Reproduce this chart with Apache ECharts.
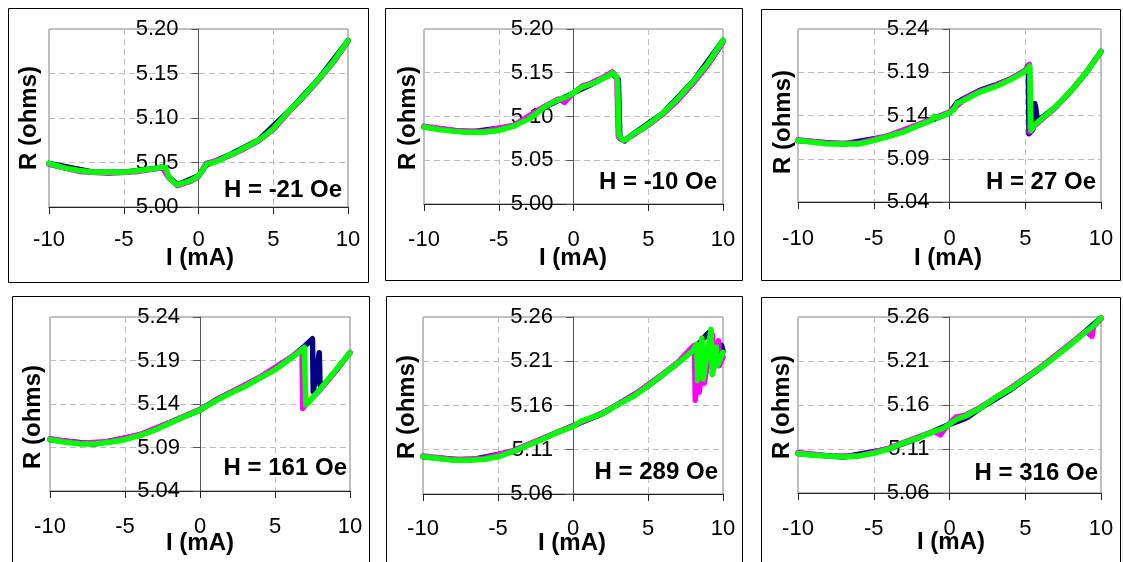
<!DOCTYPE html>
<html><head><meta charset="utf-8">
<script src="https://cdn.jsdelivr.net/npm/echarts@6/dist/echarts.min.js"></script>
<style>html,body{margin:0;padding:0;background:#fff}#c{width:1123px;height:562px}</style>
</head><body><div id="c"></div>
<script>
// ---------- DATA ----------
const panelLabels = ['H = -21 Oe','H = -10 Oe','H = 27 Oe','H = 161 Oe','H = 289 Oe','H = 316 Oe'];
const yMin = [5.00, 5.00, 5.04, 5.04, 5.06, 5.06];
const yMax = [5.20, 5.20, 5.24, 5.24, 5.26, 5.26];
const yStep = 0.05;
const xMin = -10, xMax = 10, xStep = 5;
const xTitle = 'I (mA)';
const yTitle = 'R (ohms)';

// Panel 1  (H = -21 Oe)
const p1_green_I = [-10,-9,-8,-7,-6,-5,-4,-3,-2.4,-2.2,-2.0,-1.7,-1.4,-1.0,-0.5,0,0.3,0.5,1,1.5,2,2.5,3,3.5,4,4.5,5,6,7,8,9,10];
const p1_green_R = [5.049,5.044,5.041,5.039,5.039,5.039,5.041,5.043,5.045,5.044,5.034,5.028,5.025,5.027,5.030,5.035,5.042,5.048,5.050,5.053,5.058,5.061,5.066,5.070,5.075,5.081,5.088,5.107,5.124,5.143,5.163,5.187];
const p1_magenta_I = [-10,-8,-6,-4,-2.4,-2.0,-1.4,-0.5,0,0.5,1,2,3,4,5,6,7,8,9,10];
const p1_magenta_R = [5.048,5.040,5.038,5.040,5.044,5.033,5.024,5.029,5.034,5.049,5.051,5.057,5.065,5.074,5.087,5.106,5.123,5.142,5.162,5.186];
const p1_navy_I = [-10,-7,-5,-3,-2.4,-2.0,-1.4,0,0.5,2,4,6,8,10];
const p1_navy_R = [5.049,5.039,5.039,5.043,5.045,5.034,5.025,5.035,5.047,5.058,5.075,5.107,5.143,5.187];

// Panel 2  (H = -10 Oe)
const p2_green_I = [-10,-9,-8,-7,-6,-5,-4,-3,-2.5,-2,-1.5,-1,-0.5,0,0.5,1,1.5,2,2.4,2.6,2.85,2.95,3.05,3.3,3.6,4,4.5,5,6,7,8,9,10];
const p2_green_R = [5.088,5.085,5.083,5.082,5.082,5.084,5.089,5.097,5.103,5.110,5.115,5.119,5.122,5.127,5.133,5.136,5.139,5.144,5.147,5.150,5.146,5.140,5.078,5.073,5.074,5.080,5.085,5.091,5.104,5.121,5.140,5.161,5.187];
const p2_magenta_I = [-10,-8,-6,-4,-2,-1,-0.6,-0.4,0,0.6,1,2,2.6,2.9,3.0,3.4,4,5,6,7,8,9,10];
const p2_magenta_R = [5.089,5.084,5.083,5.090,5.111,5.120,5.116,5.120,5.127,5.135,5.137,5.145,5.151,5.145,5.077,5.073,5.079,5.090,5.103,5.119,5.138,5.159,5.185];
const p2_navy_I = [-10,-7,-4,-2,0,1,2,2.6,3.0,3.1,3.4,4,6,8,10];
const p2_navy_R = [5.088,5.082,5.089,5.110,5.127,5.135,5.144,5.149,5.142,5.075,5.072,5.080,5.104,5.140,5.187];

// Panel 3  (H = 27 Oe)
const p3_green_I = [-10,-9,-8,-7,-6,-5,-4,-3,-2,-1.2,-1,-0.8,0,0.3,0.5,1,2,3,4,5,5.3,5.38,5.6,6,7,8,9,10];
const p3_green_R = [5.111,5.109,5.107,5.107,5.107,5.111,5.116,5.121,5.129,5.134,5.139,5.137,5.143,5.147,5.154,5.158,5.167,5.173,5.181,5.191,5.197,5.123,5.129,5.135,5.150,5.168,5.189,5.214];
const p3_magenta_I = [-10,-8,-6,-4,-2,0,1,2,3,4,5,5.28,5.32,5.6,6,7,8,9,10];
const p3_magenta_R = [5.112,5.108,5.108,5.117,5.130,5.144,5.159,5.168,5.174,5.182,5.192,5.199,5.121,5.128,5.134,5.149,5.168,5.189,5.214];
const p3_navy_I = [-10,-7,-4,-2,0,0.5,1,2,3,4,5,5.2,5.25,5.5,5.62,5.68,5.8,6,7,8,9,10];
const p3_navy_R = [5.111,5.107,5.116,5.129,5.143,5.155,5.160,5.169,5.175,5.182,5.192,5.198,5.119,5.124,5.154,5.150,5.134,5.136,5.150,5.168,5.189,5.214];

// Panel 4  (H = 161 Oe)
const p4_green_I = [-10,-9,-8,-7,-6,-5,-4,-3,-2,-1,0,0.5,1,2,3,4,5,6,6.5,6.95,7.05,7.3,8,9,10];
const p4_green_R = [5.099,5.096,5.094,5.094,5.096,5.099,5.104,5.110,5.118,5.126,5.133,5.138,5.143,5.152,5.160,5.170,5.179,5.192,5.198,5.205,5.139,5.143,5.157,5.178,5.199];
const p4_magenta_I = [-10,-8,-6,-4,-2,0,2,4,6,6.8,6.85,7.1,8,9,10];
const p4_magenta_R = [5.100,5.095,5.097,5.105,5.119,5.134,5.153,5.171,5.193,5.203,5.135,5.140,5.156,5.177,5.199];
const p4_navy_I = [-10,-7,-4,-1,0,1,2,3,4,5,6,7,7.5,7.55,7.6,7.95,8.0,8.1,8.3,9,10];
const p4_navy_R = [5.099,5.094,5.104,5.126,5.133,5.144,5.153,5.161,5.170,5.180,5.192,5.207,5.215,5.154,5.160,5.199,5.162,5.160,5.163,5.177,5.199];

// Panel 5  (H = 289 Oe)
const p5_green_I = [-10,-9,-8,-7,-6,-5,-4,-3,-2,-1,0,0.5,1,2,3,4,5,6,7,8,8.25,8.3,8.6,8.68,9.2,9.28,9.55,9.62,10];
const p5_green_R = [5.102,5.100,5.098,5.098,5.099,5.102,5.108,5.115,5.122,5.130,5.136,5.142,5.145,5.151,5.161,5.170,5.182,5.195,5.208,5.222,5.229,5.188,5.236,5.190,5.246,5.195,5.226,5.205,5.220];
const p5_magenta_I = [-10,-8,-6,-4,-2,0,2,4,6,7,7.9,8.1,8.15,8.35,8.42,8.7,8.75,9.3,9.35,9.7,9.75,10];
const p5_magenta_R = [5.103,5.099,5.100,5.109,5.123,5.137,5.152,5.171,5.196,5.209,5.225,5.228,5.166,5.214,5.175,5.224,5.185,5.240,5.200,5.233,5.205,5.215];
const p5_navy_I = [-10,-7,-4,-1,2,5,7,8,8.5,8.9,9.1,9.15,9.5,9.9,10];
const p5_navy_R = [5.102,5.098,5.108,5.130,5.151,5.182,5.208,5.223,5.232,5.240,5.243,5.205,5.222,5.228,5.222];

// Panel 6  (H = 316 Oe)
const p6_green_I = [-10,-9,-8,-7,-6,-5,-4,-3,-2,-1,-0.5,0,0.5,1,2,3,4,5,6,7,8,9,9.5,10];
const p6_green_R = [5.105,5.103,5.102,5.101,5.102,5.105,5.110,5.117,5.123,5.130,5.133,5.138,5.144,5.147,5.156,5.168,5.178,5.190,5.202,5.215,5.229,5.243,5.250,5.259];
const p6_magenta_I = [-10,-8,-6,-4,-2,-1,-0.6,-0.4,0,0.4,1,2,4,6,8,9,9.4,9.5,10];
const p6_magenta_R = [5.106,5.102,5.102,5.111,5.124,5.130,5.126,5.131,5.139,5.146,5.148,5.157,5.179,5.203,5.230,5.244,5.238,5.249,5.258];
const p6_navy_I = [-10,-7,-4,-2,0,0.8,1.2,2,4,6,8,10];
const p6_navy_R = [5.105,5.101,5.110,5.123,5.138,5.143,5.146,5.156,5.177,5.202,5.229,5.259];

const panelData = [
  {navy:[p1_navy_I,p1_navy_R], magenta:[p1_magenta_I,p1_magenta_R], green:[p1_green_I,p1_green_R]},
  {navy:[p2_navy_I,p2_navy_R], magenta:[p2_magenta_I,p2_magenta_R], green:[p2_green_I,p2_green_R]},
  {navy:[p3_navy_I,p3_navy_R], magenta:[p3_magenta_I,p3_magenta_R], green:[p3_green_I,p3_green_R]},
  {navy:[p4_navy_I,p4_navy_R], magenta:[p4_magenta_I,p4_magenta_R], green:[p4_green_I,p4_green_R]},
  {navy:[p5_navy_I,p5_navy_R], magenta:[p5_magenta_I,p5_magenta_R], green:[p5_green_I,p5_green_R]},
  {navy:[p6_navy_I,p6_navy_R], magenta:[p6_magenta_I,p6_magenta_R], green:[p6_green_I,p6_green_R]}
];

// ---------- LAYOUT ----------
const plotBoxes = [
  {left:49, top:29, width:299, height:178},
  {left:424, top:29, width:299, height:175},
  {left:798, top:29, width:303, height:173},
  {left:50, top:317, width:300, height:174},
  {left:423, top:317, width:300, height:177},
  {left:798, top:317, width:303, height:176}
];
const frames = [
  {x:8, y:8, w:360, h:274},
  {x:385, y:8, w:357, h:272},
  {x:761, y:9, w:359, h:271},
  {x:12, y:296, w:357, h:320},
  {x:386, y:296, w:356, h:320},
  {x:761, y:297, w:359, h:320}
];
const xLabelMargin = [22, 25, 26, 25, 24, 25];
const yTitlePos = [[29,118],[408,118],[783,122],[33,417],[407,407],[782,407]];
const xTitlePos = [[200,258],[573,258],[948,258],[200,543],[572,543],[951,542]];
const hLabelPos = [[342,190],[717,182],[1096,182],[347,468],[718,472],[1098,473]];

const FONT = "'Liberation Sans', Arial, Helvetica, sans-serif";
const colors = {navy:'#000080', magenta:'#ff00ff', green:'#00ff00'};

const grid = [], xAxis = [], yAxis = [], series = [], graphic = [];
plotBoxes.forEach((b, k) => {
  grid.push({left:b.left, top:b.top, width:b.width, height:b.height, show:true,
    borderColor:'#808080', borderWidth:1, backgroundColor:'#fff'});
  xAxis.push({type:'value', gridIndex:k, min:xMin, max:xMax, interval:xStep,
    axisLine:{onZero:false, lineStyle:{color:'#222', width:1}},
    axisTick:{show:true, length:7, lineStyle:{color:'#222'}},
    axisLabel:{fontFamily:FONT, fontSize:22, color:'#000', margin:xLabelMargin[k], showMinLabel:true, showMaxLabel:true},
    splitLine:{show:true, lineStyle:{color:'#bdbdbd', type:[6,4], width:1}}
  });
  // place the vertical axis where I = 0 (shift from the left edge of the plot)
  const zeroShift = -((0 - xMin) / (xMax - xMin)) * b.width;
  yAxis.push({type:'value', gridIndex:k, min:yMin[k], max:yMax[k], interval:yStep,
    position:'left', offset:zeroShift,
    axisLine:{show:true, onZero:false, lineStyle:{color:'#555', width:1}},
    axisTick:{show:true, length:7, lineStyle:{color:'#555'}},
    axisLabel:{fontFamily:FONT, fontSize:22, color:'#000', margin:20, formatter:v => v.toFixed(2), showMinLabel:true, showMaxLabel:true},
    splitLine:{show:true, lineStyle:{color:'#bdbdbd', type:[6,4], width:1}}
  });
  const d = panelData[k];
  ['navy','magenta','green'].forEach((c, j) => {
    const [I, R] = d[c];
    series.push({type:'line', xAxisIndex:k, yAxisIndex:k, showSymbol:false, symbol:'none',
      data:I.map((x, i) => [x, R[i]]), z:2+j,
      lineStyle:{color:colors[c], width:5.5, cap:'round', join:'round'}, animation:false});
  });
  const f = frames[k];
  graphic.push({type:'rect', shape:{x:f.x+0.5, y:f.y+0.5, width:f.w, height:f.h},
    style:{fill:'none', stroke:'#000', lineWidth:1}, z:100});
  graphic.push({type:'text', x:yTitlePos[k][0], y:yTitlePos[k][1], rotation:Math.PI/2,
    style:{text:yTitle, font:'bold 24px ' + FONT, fill:'#000', align:'center', verticalAlign:'middle'}, z:100});
  graphic.push({type:'text', x:xTitlePos[k][0], y:xTitlePos[k][1],
    style:{text:xTitle, font:'bold 24px ' + FONT, fill:'#000', align:'center', verticalAlign:'middle'}, z:100});
  graphic.push({type:'text', x:hLabelPos[k][0], y:hLabelPos[k][1],
    style:{text:panelLabels[k], font:'bold 24px ' + FONT, fill:'#000', align:'right', verticalAlign:'middle'}, z:100});
});

const chart = echarts.init(document.getElementById('c'), null, {renderer:'canvas'});
chart.setOption({animation:false, backgroundColor:'#fff', grid, xAxis, yAxis, series, graphic});
</script></body></html>
